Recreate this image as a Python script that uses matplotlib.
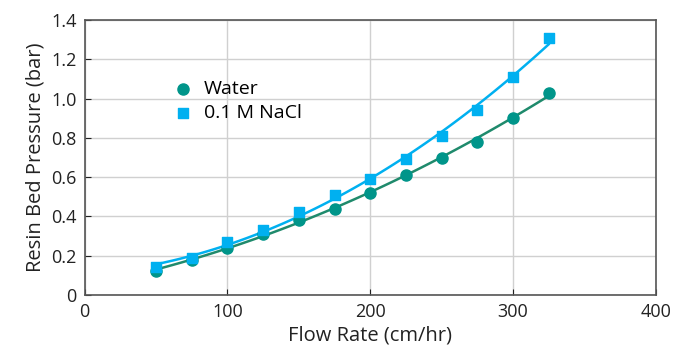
import numpy as np
import matplotlib.pyplot as plt

plt.rcParams["font.family"] = ["Open Sans", "DejaVu Sans"]

FLOW_RATE = [50, 75, 100, 125, 150, 175, 200, 225, 250, 275, 300, 325]
WATER = [0.12, 0.18, 0.24, 0.31, 0.38, 0.44, 0.52, 0.61, 0.70, 0.78, 0.90, 1.03]
NACL = [0.14, 0.19, 0.27, 0.33, 0.42, 0.51, 0.59, 0.69, 0.81, 0.94, 1.11, 1.31]

WATER_COLOR = "#00958a"
WATER_LINE = "#1f8a6c"
NACL_COLOR = "#00b0f0"


def trend(x, y):
    # second order polynomial trendline, like the spreadsheet one
    coef = np.polyfit(x, y, 2)
    xs = np.linspace(min(x), max(x), 100)
    return xs, np.polyval(coef, xs)


fig, ax = plt.subplots(figsize=(6.78, 3.6), dpi=100)
fig.subplots_adjust(left=0.125, right=0.967, top=0.944, bottom=0.181)

xs, ys = trend(FLOW_RATE, WATER)
ax.plot(xs, ys, color=WATER_LINE, lw=1.8, zorder=3)
xs, ys = trend(FLOW_RATE, NACL)
ax.plot(xs, ys, color=NACL_COLOR, lw=1.8, zorder=3)

ax.scatter(FLOW_RATE, WATER, s=64, marker="o", color=WATER_COLOR, label="Water", zorder=4)
ax.scatter(FLOW_RATE, NACL, s=52, marker="s", color=NACL_COLOR, label="0.1 M NaCl", zorder=4)

ax.set_xlim(0, 400)
ax.set_ylim(0, 1.4)
ax.set_xticks([0, 100, 200, 300, 400])
ax.set_yticks(np.arange(0, 1.41, 0.2))
ax.set_yticklabels(["0"] + [f"{v:.1f}" for v in np.arange(0.2, 1.41, 0.2)])
ax.grid(True, color="#d0d0d0", lw=1)
ax.set_axisbelow(True)
ax.tick_params(direction="in", length=4, labelsize=13, colors="#222222", pad=6)
for s in ax.spines.values():
    s.set_color("#555555")
    s.set_linewidth(1.2)

ax.set_xlabel("Flow Rate (cm/hr)", fontsize=14.5, color="#222222", labelpad=3)
ax.set_ylabel("Resin Bed Pressure (bar)", fontsize=14.5, color="#222222", labelpad=4)

ax.legend(loc="upper left", bbox_to_anchor=(0.135, 0.818), frameon=False,
          fontsize=14, handlelength=1.2, handletextpad=0.47, labelspacing=0.3,
          borderpad=0, markerscale=1.0)

plt.savefig("out.png", dpi=100)
plt.close()
